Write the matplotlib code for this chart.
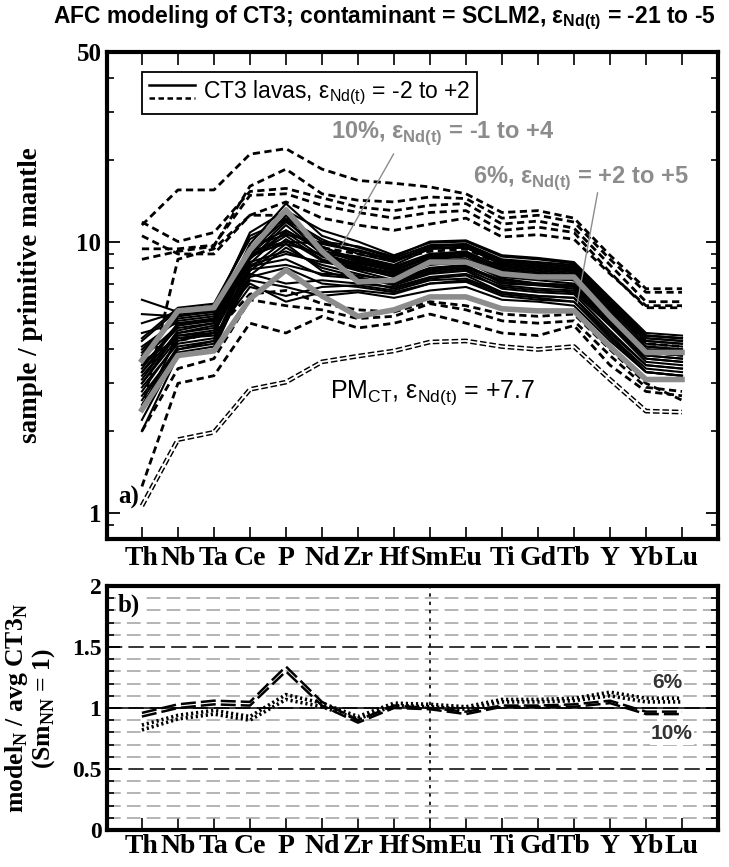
import numpy as np
import matplotlib
matplotlib.use('Agg')
import matplotlib.pyplot as plt
from matplotlib.lines import Line2D
from matplotlib.legend_handler import HandlerBase
from matplotlib.ticker import NullFormatter, MultipleLocator

plt.rcParams['font.family'] = 'Liberation Serif'
plt.rcParams['font.weight'] = 'bold'
plt.rcParams['axes.labelweight'] = 'bold'

elements = ['Th', 'Nb', 'Ta', 'Ce', 'P', 'Nd', 'Zr', 'Hf', 'Sm', 'Eu',
            'Ti', 'Gd', 'Tb', 'Y', 'Yb', 'Lu']

# CT3 lavas, solid lines (sample / primitive mantle)
lavas_solid = [
    [3.0, 4.6, 4.8, 9.0, 12.5, 9.5, 8.6, 8.0, 9.0, 9.2, 8.0, 7.8, 7.6, 5.6, 4.2, 4.1],
    [3.4, 5.0, 5.2, 9.8, 13.8, 10.5, 9.5, 8.7, 9.7, 9.8, 8.6, 8.4, 8.2, 6.0, 4.5, 4.4],
    [2.8, 4.3, 4.6, 8.6, 11.5, 9.0, 8.2, 7.6, 8.6, 8.8, 7.6, 7.4, 7.2, 5.3, 4.0, 3.9],
    [3.8, 5.4, 5.5, 9.5, 11.0, 9.2, 8.8, 8.2, 9.4, 9.6, 8.4, 8.2, 8.0, 5.9, 4.4, 4.3],
    [2.5, 4.0, 4.2, 8.0, 10.2, 8.5, 7.8, 7.2, 8.0, 8.2, 7.0, 6.9, 6.8, 5.0, 3.8, 3.7],
    [4.3, 5.6, 5.8, 10.5, 12.0, 10.0, 9.6, 8.8, 10.0, 10.1, 8.9, 8.7, 8.4, 6.2, 4.6, 4.5],
    [3.1, 4.7, 5.0, 8.8, 10.8, 8.8, 8.0, 7.4, 8.2, 8.4, 7.3, 7.0, 6.9, 5.1, 3.9, 3.8],
    [2.2, 3.9, 4.1, 7.5, 9.5, 8.0, 7.4, 6.9, 7.6, 7.8, 6.7, 6.5, 6.4, 4.7, 3.5, 3.4],
    [5.0, 5.5, 5.7, 8.2, 9.0, 8.4, 8.0, 7.6, 8.5, 8.6, 7.6, 7.5, 7.3, 5.4, 4.1, 4.0],
    [6.1, 5.5, 5.6, 7.6, 7.0, 7.2, 7.0, 6.8, 7.4, 7.6, 6.8, 6.6, 6.5, 4.9, 3.7, 3.6],
    [4.6, 5.0, 5.1, 7.0, 6.0, 6.5, 6.6, 6.4, 7.0, 7.2, 6.4, 6.2, 6.0, 4.5, 3.4, 3.3],
    [3.6, 4.4, 4.5, 6.8, 6.3, 6.8, 6.9, 6.6, 7.2, 7.3, 6.5, 6.3, 6.2, 4.6, 3.5, 3.4],
    [2.9, 4.2, 4.4, 7.2, 6.8, 6.3, 6.5, 6.2, 6.6, 6.8, 6.1, 6.0, 5.8, 4.3, 3.3, 3.2],
    [3.3, 4.9, 5.2, 9.2, 10.0, 9.8, 9.2, 8.5, 9.6, 9.7, 8.5, 8.3, 8.1, 6.0, 4.5, 4.4],
    [4.0, 5.2, 5.4, 9.0, 9.8, 9.0, 8.7, 8.1, 9.0, 9.1, 8.1, 7.9, 7.7, 5.7, 4.3, 4.2],
    [2.6, 4.1, 4.3, 8.3, 11.0, 9.3, 8.4, 7.8, 8.7, 8.9, 7.8, 7.6, 7.4, 5.4, 4.0, 3.9],
    [3.5, 4.8, 5.0, 8.4, 9.2, 8.2, 7.6, 7.1, 7.8, 8.0, 7.1, 6.9, 6.7, 5.0, 3.7, 3.6],
    [2.0, 3.8, 4.0, 7.8, 9.8, 7.8, 7.2, 6.7, 7.3, 7.5, 6.5, 6.3, 6.2, 4.5, 3.3, 3.2],
    [3.9, 5.3, 5.6, 10.8, 13.0, 11.0, 10.0, 8.9, 9.9, 10.0, 8.8, 8.6, 8.3, 6.1, 4.5, 4.4],
    [3.2, 4.5, 4.7, 8.7, 10.5, 8.6, 7.9, 7.5, 8.3, 8.5, 7.4, 7.2, 7.0, 5.2, 3.9, 3.8],
    [2.7, 4.0, 4.3, 7.4, 8.0, 7.0, 6.8, 6.5, 7.0, 7.1, 6.3, 6.1, 6.0, 4.4, 3.3, 3.2],
    [4.4, 5.7, 5.9, 10.2, 12.2, 10.2, 9.0, 8.4, 9.5, 9.5, 8.3, 8.1, 7.9, 5.8, 4.4, 4.3],
    [3.0, 4.4, 4.6, 8.1, 8.6, 7.5, 7.3, 7.0, 7.7, 7.9, 6.9, 6.7, 6.6, 4.9, 3.6, 3.5],
    [3.7, 4.9, 5.1, 8.9, 11.8, 9.6, 8.5, 7.9, 8.8, 9.0, 7.9, 7.7, 7.5, 5.5, 4.1, 4.0],
    [4.1, 5.1, 5.3, 9.6, 10.6, 9.9, 9.3, 8.6, 9.4, 9.5, 8.2, 8.0, 7.8, 5.8, 4.3, 4.2],
    [2.4, 4.5, 4.6, 8.8, 10.0, 8.9, 8.1, 7.7, 8.5, 8.6, 7.5, 7.3, 7.2, 5.3, 3.9, 3.8],
    [3.3, 4.6, 4.9, 9.3, 12.0, 9.0, 8.3, 7.8, 8.9, 9.0, 7.7, 7.5, 7.3, 5.4, 4.0, 4.0],
    [5.4, 5.3, 5.5, 7.9, 8.2, 7.6, 7.5, 7.2, 7.9, 8.1, 7.2, 7.0, 6.9, 5.1, 3.8, 3.7],
]

# CT3 lavas, dashed lines
lavas_dashed = [
    [11.5, 15.5, 15.5, 21.0, 22.0, 18.5, 16.8, 16.4, 15.9, 15.0, 12.8, 13.0, 12.2, 8.9, 6.7, 6.7],
    [8.6, 9.2, 9.6, 16.0, 18.5, 15.0, 14.2, 14.0, 14.6, 14.4, 12.2, 12.5, 11.8, 8.6, 6.5, 6.5],
    [11.8, 10.0, 10.8, 15.3, 15.7, 14.5, 13.4, 13.0, 13.6, 13.8, 11.6, 11.9, 11.2, 8.2, 6.0, 6.0],
    [9.4, 9.4, 9.7, 14.8, 15.0, 13.6, 12.8, 12.2, 12.8, 13.0, 11.0, 11.3, 10.8, 7.7, 5.7, 5.7],
    [10.5, 9.0, 9.0, 12.5, 14.0, 12.2, 11.5, 11.0, 11.6, 12.2, 10.4, 10.6, 10.2, 7.6, 5.8, 5.8],
    [2.4, 8.6, 9.4, 12.5, 12.5, 9.5, 9.0, 8.6, 9.2, 9.4, 8.2, 8.0, 7.8, 5.7, 4.2, 4.1],
    [1.25, 3.0, 3.2, 5.0, 4.6, 5.3, 4.8, 5.0, 5.4, 5.0, 4.6, 4.5, 4.9, 3.5, 2.8, 2.7],
    [2.0, 3.4, 3.7, 6.1, 5.8, 5.6, 5.2, 5.3, 5.9, 5.6, 5.1, 5.0, 5.1, 3.8, 2.9, 2.8],
    [3.5, 4.3, 4.6, 6.4, 6.6, 5.9, 5.6, 5.5, 6.0, 5.8, 5.4, 5.3, 5.4, 4.0, 3.0, 2.6],
]

# AFC models (grey) and primitive mantle
afc_10 = [3.65, 5.55, 5.7, 9.3, 13.1, 9.2, 7.1, 7.2, 8.4, 8.4, 7.6, 7.4, 7.4, 5.3, 3.9, 3.9]
afc_6 = [2.4, 3.8, 3.95, 6.15, 7.85, 6.3, 5.3, 5.6, 6.25, 6.25, 5.65, 5.55, 5.55, 4.1, 3.1, 3.1]
pm_ct = [1.06, 1.86, 1.98, 2.85, 3.03, 3.6, 3.78, 3.95, 4.26, 4.3, 4.1, 4.0, 4.1, 3.1, 2.37, 2.35]

# panel b: model / avg CT3 (Sm normalised)
ratio_10a = [0.96, 1.03, 1.06, 1.05, 1.34, 1.05, 0.90, 1.02, 1.00, 0.97, 1.02, 1.02, 1.03, 1.06, 0.97, 0.97]
ratio_10b = [0.93, 1.00, 1.03, 1.02, 1.30, 1.02, 0.88, 1.00, 0.99, 0.95, 1.01, 1.01, 1.01, 1.04, 0.95, 0.95]
ratio_6a = [0.86, 0.94, 0.98, 0.93, 1.11, 1.04, 0.93, 1.04, 1.03, 1.01, 1.07, 1.07, 1.08, 1.13, 1.08, 1.08]
ratio_6b = [0.82, 0.91, 0.95, 0.90, 1.07, 1.01, 0.91, 1.02, 1.01, 0.99, 1.05, 1.05, 1.06, 1.10, 1.05, 1.05]

x = np.arange(len(elements))
grey = '#8c8c8c'
sub = r'$_{\mathregular{Nd(t)}}$'


class SolidOverDashed(HandlerBase):
    def create_artists(self, legend, orig_handle, xdescent, ydescent,
                       width, height, fontsize, trans):
        x0, x1 = -xdescent, -xdescent + width
        top = Line2D([x0, x1], [height * 0.85 - ydescent] * 2, color='black',
                     lw=1.8, transform=trans)
        bot = Line2D([x0, x1], [height * 0.0 - ydescent] * 2, color='black',
                     lw=1.8, linestyle=(0, (2.2, 1.4)), transform=trans)
        return [top, bot]


fig = plt.figure(figsize=(7.29, 8.67), dpi=100)
ax1 = fig.add_axes([107 / 729, 1 - 539 / 867, 611 / 729, 487 / 867])
ax2 = fig.add_axes([107 / 729, 1 - 830 / 867, 611 / 729, 244 / 867])

# ---- panel a
for row in lavas_dashed:
    ax1.plot(x, row, color='black', lw=2.0, linestyle=(0, (2.6, 1.6)), zorder=2)
for row in lavas_solid:
    ax1.plot(x, row, color='black', lw=1.5, zorder=3)
ax1.plot(x, pm_ct, color='black', lw=3.4, linestyle=(0, (1.4, 0.6)), zorder=3)
ax1.plot(x, pm_ct, color='white', lw=1.3, zorder=3.1)
ax1.plot(x, afc_10, color=grey, lw=4.0, zorder=4)
ax1.plot(x, afc_6, color=grey, lw=4.0, zorder=4)

ax1.set_yscale('log')
ax1.set_ylim(0.8, 50)
ax1.set_xlim(-0.97, 16.0)
ax1.set_xticks(x, labels=elements)
ax1.set_yticks([1, 10, 50], labels=['1', '10', '50'])
ax1.set_yticks([0.9, 2, 3, 4, 5, 6, 7, 8, 9, 20, 30, 40], minor=True)
ax1.yaxis.set_minor_formatter(NullFormatter())
ax1.tick_params(axis='both', which='both', direction='in', top=True, right=True)
ax1.tick_params(axis='x', length=9, width=1.2, labelsize=20, pad=5)
ax1.tick_params(axis='y', which='major', length=9, width=1.3, labelsize=18, pad=4)
ax1.tick_params(axis='y', which='minor', length=5, width=1.2)
for s in ax1.spines.values():
    s.set_linewidth(3)
ax1.set_ylabel('sample / primitive mantle', fontsize=19.5, fontweight='bold')
ax1.yaxis.set_label_coords(-0.105, 0.5)

leg = ax1.legend([Line2D([], [])], ['CT3 lavas, ε' + sub + ' = -2 to +2'],
                 handler_map={Line2D: SolidOverDashed()}, loc='upper left',
                 bbox_to_anchor=(0.057, 0.959), borderaxespad=0, fancybox=False,
                 edgecolor='black', framealpha=1,
                 prop={'family': 'Liberation Sans', 'weight': 'normal', 'size': 16.5},
                 handlelength=2.0, handletextpad=0.35, borderpad=0.3)
leg.get_frame().set_linewidth(1.3)

ax1.text(5.25, 25.0, '10%, ε' + sub + ' = -1 to +4', color=grey, fontsize=17,
         family='Liberation Sans', fontweight='bold', va='center', ha='left')
ax1.annotate('', xy=(5.5, 9.4), xytext=(7.03, 21.5),
             arrowprops=dict(arrowstyle='-', color=grey, lw=1.0))
ax1.text(9.2, 17.1, '6%, ε' + sub + ' = +2 to +5', color=grey, fontsize=17,
         family='Liberation Sans', fontweight='bold', va='center', ha='left')
ax1.annotate('', xy=(12.08, 5.8), xytext=(12.67, 15.5),
             arrowprops=dict(arrowstyle='-', color=grey, lw=1.0))
ax1.text(5.22, 2.78, r'PM$_{\mathregular{CT}}$, ε' + sub + ' = +7.7', fontsize=18,
         family='Liberation Sans', fontweight='normal', va='center', ha='left')
ax1.text(0.018, 0.086, 'a)', transform=ax1.transAxes, fontsize=18,
         va='center', ha='left')

# ---- panel b
ax2.set_ylim(0, 2)
ax2.set_xlim(-0.97, 16.0)
ax2.yaxis.set_minor_locator(MultipleLocator(0.1))
ax2.set_yticks([0, 0.5, 1, 1.5, 2], labels=['0', '0.5', '1', '1.5', '2'])
ax2.grid(True, axis='y', which='minor', color='#a0a0a0', lw=1.1, linestyle=(0, (9, 4)))
ax2.grid(True, axis='y', which='major', color='black', lw=1.1, linestyle=(0, (10, 4)))
ax2.axhline(1.0, color='black', lw=1.1, zorder=1.6)
ax2.axvline(elements.index('Sm'), color='black', lw=1.2, linestyle=(0, (2, 3)), zorder=1.6)

ax2.plot(x, ratio_10a, color='black', lw=1.8, linestyle=(0, (6, 2)), zorder=3)
ax2.plot(x, ratio_10b, color='black', lw=1.8, linestyle=(0, (6, 2)), zorder=3)
ax2.plot(x, ratio_6a, color='black', lw=2.6, linestyle=(0, (0.6, 0.8)), zorder=3)
ax2.plot(x, ratio_6b, color='black', lw=2.6, linestyle=(0, (0.6, 0.8)), zorder=3)

ax2.set_xticks(x, labels=elements)
ax2.tick_params(axis='both', which='both', direction='in', right=True)
ax2.tick_params(axis='x', length=9, width=1.2, labelsize=20, pad=3)
ax2.tick_params(axis='y', which='major', length=9, width=1.3, labelsize=17, pad=4)
ax2.tick_params(axis='y', which='minor', length=5, width=1.2)
for s in ax2.spines.values():
    s.set_linewidth(3)
ax2.set_ylabel('model$_{\\mathregular{N}}$ / avg CT3$_{\\mathregular{N}}$\n'
               '(Sm$_{\\mathregular{NN}}$ = 1)', fontsize=18.5, fontweight='bold',
               linespacing=1.0)
ax2.yaxis.set_label_coords(-0.082, 0.5)

wbox = dict(facecolor='white', edgecolor='none', pad=1)
ax2.text(14.6, 1.21, '6%', fontsize=15, family='Liberation Sans', fontweight='bold',
         color='#333333', ha='center', va='center', bbox=wbox, zorder=4)
ax2.text(14.72, 0.79, '10%', fontsize=15, family='Liberation Sans', fontweight='bold',
         color='#333333', ha='center', va='center', bbox=wbox, zorder=4)
ax2.text(0.018, 0.922, 'b)', transform=ax2.transAxes, fontsize=18,
         va='center', ha='left', bbox=wbox, zorder=4)

fig.text(0.527, 0.979, 'AFC modeling of CT3; contaminant = SCLM2, ε' + sub + ' = -21 to -5',
         ha='center', va='center', fontsize=16.5, fontweight='bold', family='Liberation Sans')

fig.savefig('out.png', dpi=100)
